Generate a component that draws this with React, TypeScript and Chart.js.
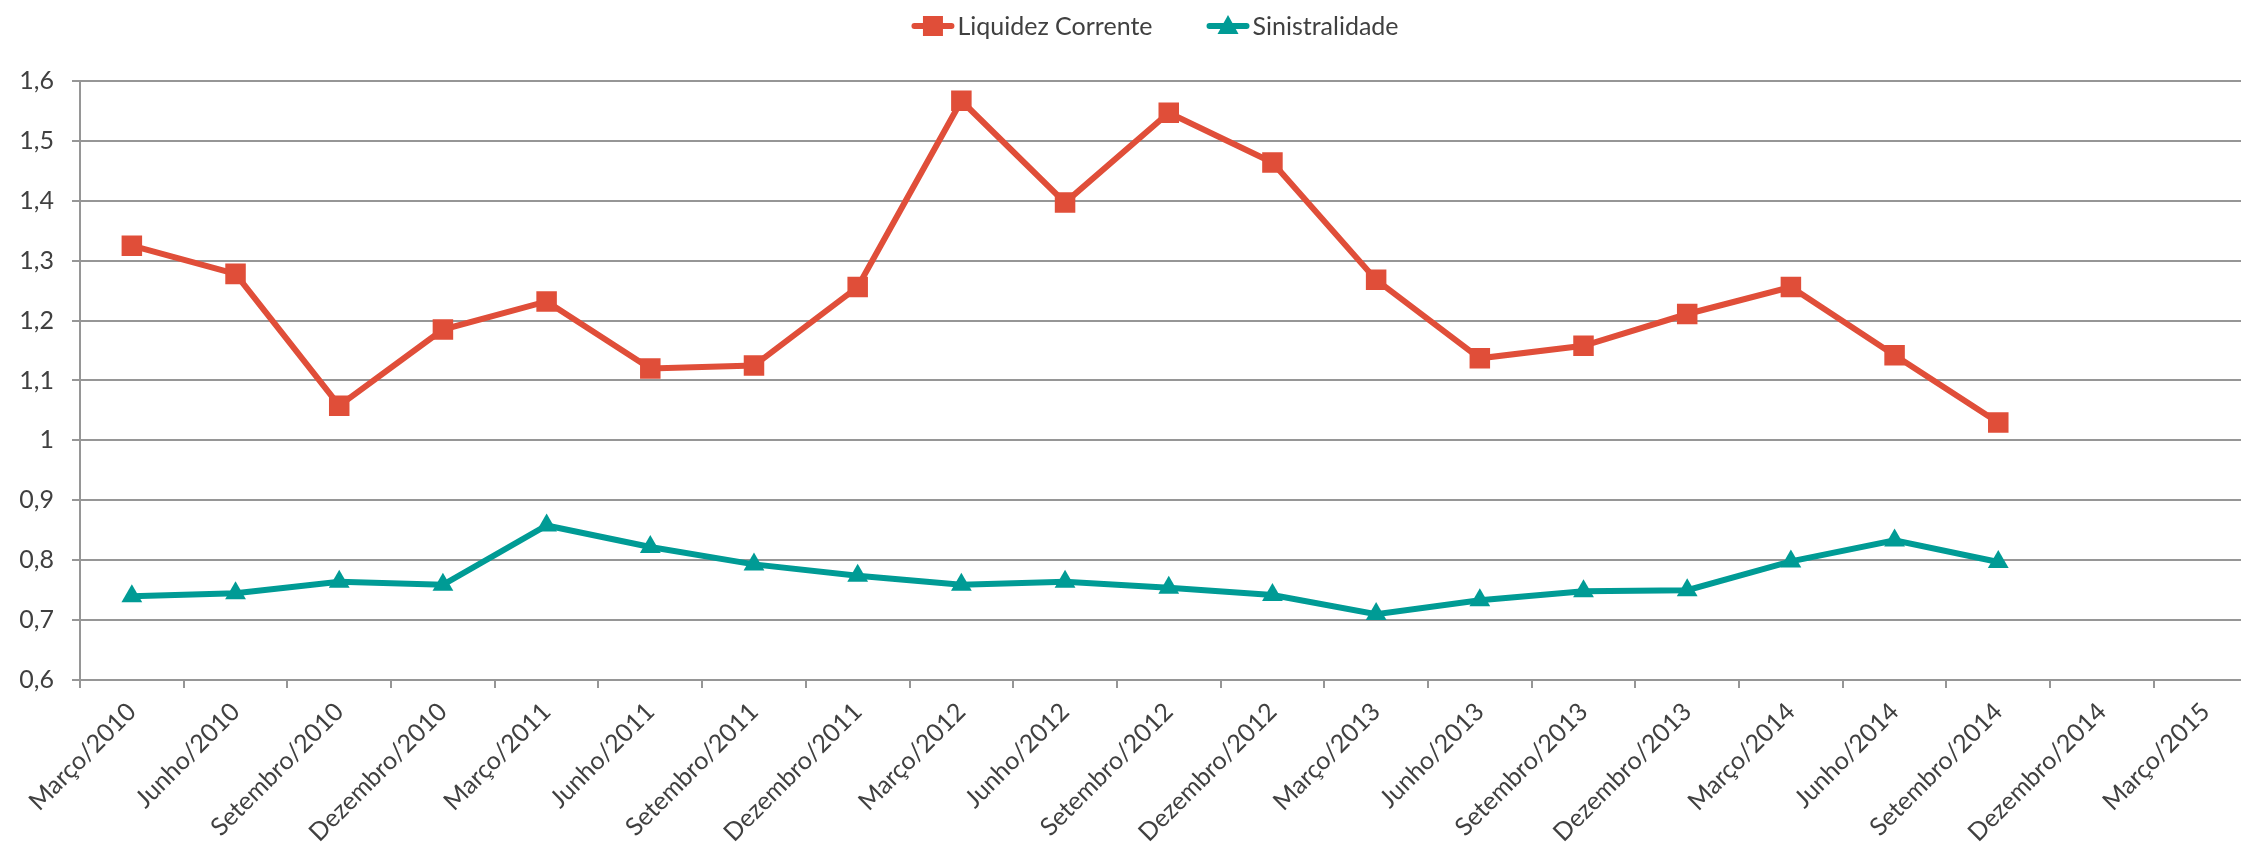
import React, { useEffect, useRef } from 'react';
import { Chart, registerables } from 'chart.js';

Chart.register(...registerables);

const categories = [
  'Março/2010', 'Junho/2010', 'Setembro/2010', 'Dezembro/2010',
  'Março/2011', 'Junho/2011', 'Setembro/2011', 'Dezembro/2011',
  'Março/2012', 'Junho/2012', 'Setembro/2012', 'Dezembro/2012',
  'Março/2013', 'Junho/2013', 'Setembro/2013', 'Dezembro/2013',
  'Março/2014', 'Junho/2014', 'Setembro/2014', 'Dezembro/2014',
  'Março/2015',
];

const liquidezCorrente = [
  1.325, 1.278, 1.058, 1.185, 1.232, 1.120, 1.125, 1.256, 1.567, 1.397,
  1.547, 1.464, 1.268, 1.137, 1.158, 1.211, 1.256, 1.142, 1.030,
];

const sinistralidade = [
  0.740, 0.745, 0.764, 0.759, 0.858, 0.822, 0.793, 0.774, 0.759, 0.764,
  0.754, 0.742, 0.710, 0.733, 0.748, 0.750, 0.798, 0.833, 0.797,
];

const yMin = 0.6;
const yMax = 1.6;
const yStep = 0.1;

const RED = '#E04E39';
const TEAL = '#009B95';
const GRID = '#969696';
const TEXT = '#404040';
const FONT_FAMILY = 'Lato, "Open Sans", sans-serif';
const FONT_SIZE = 25;
const LINE_W = 6;

const CANVAS_W = 2272;
const CANVAS_H = 842;

const excelLegend = {
  id: 'excelLegend',
  afterDraw(chart: any) {
    const ctx = chart.ctx as CanvasRenderingContext2D;
    ctx.save();
    ctx.font = `${FONT_SIZE}px ${FONT_FAMILY}`;
    const lineLen = 43;
    const gap = 3;
    const itemGap = 54;
    const items = chart.data.datasets.map((ds: any) => ({
      label: ds.label,
      color: ds.borderColor,
      style: ds.pointStyle,
      w: ctx.measureText(ds.label).width,
    }));
    const total =
      items.reduce((s: number, it: any) => s + lineLen + gap + it.w, 0) +
      itemGap * (items.length - 1);
    let x = 1155 - total / 2;
    const y = 26;
    for (const it of items) {
      ctx.strokeStyle = it.color;
      ctx.fillStyle = it.color;
      ctx.lineWidth = LINE_W;
      ctx.lineCap = 'round';
      ctx.beginPath();
      ctx.moveTo(x + 3, y);
      ctx.lineTo(x + lineLen - 3, y);
      ctx.stroke();
      const cx = x + lineLen / 2;
      ctx.beginPath();
      if (it.style === 'rect') {
        ctx.rect(cx - 10, y - 10, 20, 20);
      } else {
        ctx.moveTo(cx, y - 11);
        ctx.lineTo(cx + 10.5, y + 8);
        ctx.lineTo(cx - 10.5, y + 8);
        ctx.closePath();
      }
      ctx.fill();
      ctx.fillStyle = TEXT;
      ctx.textAlign = 'left';
      ctx.textBaseline = 'middle';
      ctx.fillText(it.label, x + lineLen + gap, y + 1);
      x += lineLen + gap + it.w + itemGap;
    }
    ctx.restore();
  },
};

export default function App() {
  const canvasRef = useRef<HTMLCanvasElement | null>(null);

  useEffect(() => {
    const canvas = canvasRef.current;
    if (!canvas) return;
    document.body.style.margin = '0';
    const chart = new Chart(canvas, {
      type: 'line',
      data: {
        labels: categories,
        datasets: [
          {
            label: 'Liquidez Corrente',
            data: liquidezCorrente,
            borderColor: RED,
            backgroundColor: RED,
            borderWidth: LINE_W,
            pointStyle: 'rect',
            pointRadius: 14.5,
            pointBorderWidth: 0,
            pointBackgroundColor: RED,
            tension: 0,
            fill: false,
          },
          {
            label: 'Sinistralidade',
            data: sinistralidade,
            borderColor: TEAL,
            backgroundColor: TEAL,
            borderWidth: LINE_W,
            pointStyle: 'triangle',
            pointRadius: 12,
            pointBorderWidth: 0,
            pointBackgroundColor: TEAL,
            tension: 0,
            fill: false,
          },
        ],
      },
      options: {
        responsive: false,
        devicePixelRatio: 1,
        animation: false,
        layout: { padding: { top: 81, right: 3, left: 0, bottom: 0 } },
        plugins: {
          legend: { display: false },
          tooltip: { enabled: false },
        },
        scales: {
          x: {
            type: 'category',
            offset: true,
            grid: {
              display: true,
              drawOnChartArea: false,
              drawTicks: true,
              tickLength: 8,
              offset: true,
              color: GRID,
              lineWidth: 2,
            },
            border: { display: true, color: GRID, width: 2 },
            ticks: {
              autoSkip: false,
              minRotation: 45,
              maxRotation: 45,
              padding: 9,
              color: TEXT,
              font: { family: FONT_FAMILY, size: FONT_SIZE },
            },
            afterFit: (s: any) => {
              s.height = CANVAS_H - 680;
            },
          },
          y: {
            min: yMin,
            max: yMax,
            ticks: {
              stepSize: yStep,
              padding: 18,
              color: TEXT,
              font: { family: FONT_FAMILY, size: FONT_SIZE },
              callback: (v: any) => String(Number(Number(v).toFixed(1))).replace('.', ','),
            },
            grid: {
              color: GRID,
              lineWidth: 2,
              drawTicks: true,
              tickLength: 8,
            },
            border: { display: true, color: GRID, width: 2 },
            afterFit: (s: any) => {
              s.width = 80;
            },
          },
        },
      },
      plugins: [excelLegend],
    });
    return () => chart.destroy();
  }, []);

  return (
    <div
      style={{
        position: 'fixed',
        left: 0,
        top: 0,
        width: 2241,
        height: 842,
        overflow: 'hidden',
        background: '#ffffff',
      }}
    >
      <canvas
        ref={canvasRef}
        width={CANVAS_W}
        height={CANVAS_H}
        style={{ display: 'block', width: CANVAS_W, height: CANVAS_H }}
      />
    </div>
  );
}
